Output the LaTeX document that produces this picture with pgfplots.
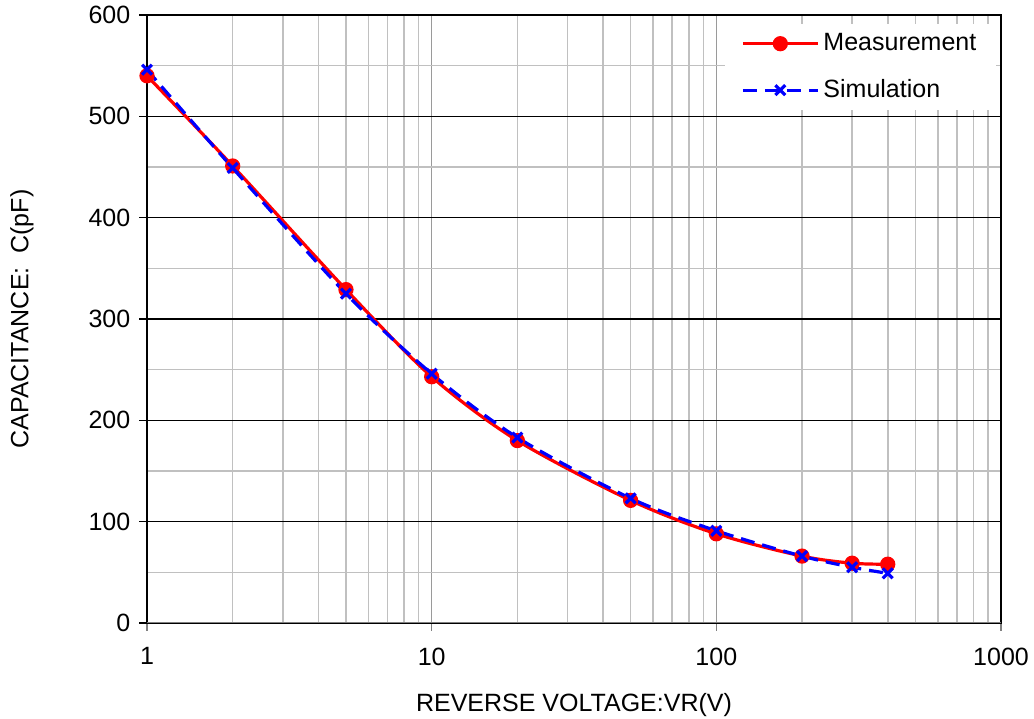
\documentclass[border=0pt]{standalone}
\usepackage{pgfplots}
\pgfplotsset{compat=1.18}
\usepackage{fontspec}
\setmainfont{Liberation Sans}
\definecolor{mred}{HTML}{FF0000}
\definecolor{sblue}{HTML}{0000FF}
\definecolor{gridgray}{HTML}{C0C0C0}

\begin{document}
\fontsize{12.5}{15}\selectfont
\begin{tikzpicture}
\begin{axis}[
    scale only axis,
    width=427pt, height=304pt,
    xmode=log, xmin=1, xmax=1000, ymin=0, ymax=600,
    xtick={1,10,100,1000}, xticklabels={1,10,100,1000},
    ytick={0,100,...,600}, minor ytick={50,150,...,550},
    xmajorgrids, xminorgrids, ymajorgrids, yminorgrids,
    major x grid style={gridgray!80!black, line width=0.8pt},
    minor x grid style={gridgray, line width=0.8pt},
    major y grid style={black, line width=0.8pt},
    minor y grid style={gridgray, line width=0.8pt},
    axis line style={black, line width=0.8pt},
    tick align=outside, xtick pos=bottom, ytick pos=left,
    major tick length=4pt, minor tick length=0pt,
    x tick style={gray, line width=0.8pt}, y tick style={black, line width=0.8pt},
    /pgf/number format/assume math mode=true,
    tick label style={font=\fontsize{12.5}{15}\selectfont},
    xticklabel style={yshift=-4pt},
    xlabel={REVERSE VOLTAGE:VR(V)},
    ylabel={CAPACITANCE:\ \ C(pF)},
    every axis x label/.style={at={(rel axis cs:0.5,0)}, anchor=center, yshift=-41pt},
    every axis y label/.style={at={(rel axis cs:0,0.5)}, anchor=center, rotate=90, yshift=62.5pt},
    legend style={at={(rel axis cs:0.995,0.997)}, anchor=north east, yshift=-3.5pt, draw=none, fill=white,
        font=\fontsize{12.5}{15}\selectfont, row sep=8.5pt, inner xsep=8pt, inner ysep=2.5pt},
    legend cell align=left,
    legend image code/.code={
        \draw[mark repeat=2, mark phase=2, #1] plot coordinates {(0cm,0cm) (0.66cm,0cm) (1.32cm,0cm)};
    },
]
\addplot[mred, line width=1.6pt, smooth, mark=*, mark size=3pt, mark options={solid}] coordinates {
    (1,540) (2,451) (5,329) (10,243) (20,180) (50,121) (100,88) (200,66) (300,59) (400,58)
};
\addlegendentry{Measurement}
\addplot[sblue, line width=1.6pt, smooth, dash pattern=on 7pt off 4pt, mark=x, mark size=3.5pt, mark options={solid}] coordinates {
    (1,546) (2,449) (5,325) (10,246) (20,183) (50,123) (100,91) (200,66) (300,55) (400,49)
};
\addlegendentry{Simulation}
\draw[gray, line width=1pt] (rel axis cs:0,0) -- (rel axis cs:1,0);
\path (rel axis cs:0,0) ++(-73.5pt,-48pt) coordinate (bl);
\path (rel axis cs:1,1) ++(16.5pt,7.5pt) coordinate (tr);
\end{axis}
\pgfresetboundingbox
\path[use as bounding box] (bl) rectangle (tr);
\end{tikzpicture}
\end{document}
